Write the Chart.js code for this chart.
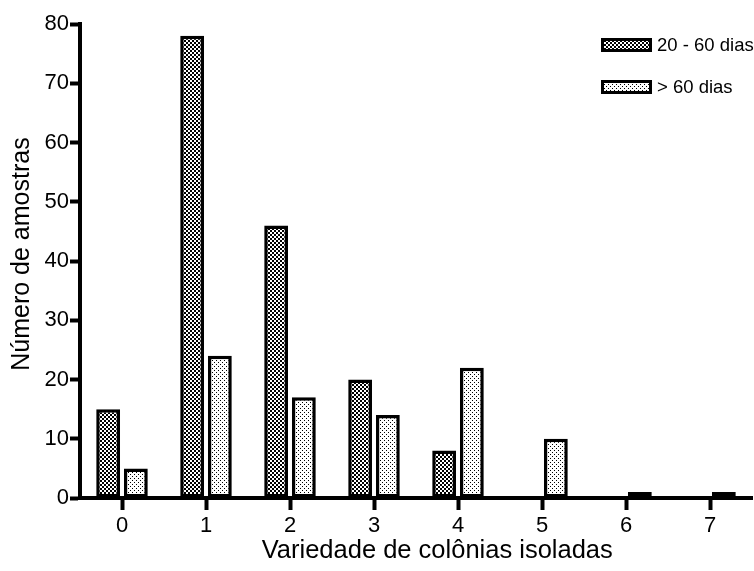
<!DOCTYPE html>
<html>
<head>
<meta charset="utf-8">
<script src="https://cdn.jsdelivr.net/npm/chart.js@4.4.1/dist/chart.umd.min.js"></script>
<style>
  html, body { margin: 0; padding: 0; background: #fff; }
  #wrap { width: 754px; height: 571px; }
</style>
</head>
<body>
<div id="wrap"><canvas id="grafico" width="754" height="571"></canvas></div>
<script>
// Data
const categorias = ["0", "1", "2", "3", "4", "5", "6", "7"];
const rotulosSeries = ["20 - 60 dias", "> 60 dias"];
const dias20a60 = [15, 78, 46, 20, 8, 0, 0, 0];
const diasMais60 = [5, 24, 17, 14, 22, 10, 1, 1];
const yMin = 0;
const yMax = 80;
const yPasso = 10;

const FONTE = "'Liberation Sans', Arial, Helvetica, sans-serif";

// Small tiles used as fill patterns (checker for the dark series, sparse dots for the light one)
function criaPadrao(tam, pontos) {
    const tile = document.createElement("canvas");
    tile.width = tam;
    tile.height = tam;
    const t = tile.getContext("2d");
    t.fillStyle = "#fff";
    t.fillRect(0, 0, tam, tam);
    t.fillStyle = "#000";
    pontos.forEach(function (p) { t.fillRect(p[0], p[1], p[2], p[2]); });
    return t.createPattern(tile, "repeat");
}

const ctx = document.getElementById("grafico").getContext("2d");
const padraoEscuro = criaPadrao(4, [[0, 0, 2], [2, 2, 2]]);
const padraoClaro = criaPadrao(4, [[0, 0, 1], [2, 2, 1]]);

// Legend drawn inside the plot area, top right, boxes stacked vertically
const legendaInterna = {
    id: "legendaInterna",
    afterDraw(chart) {
        const c = chart.ctx;
        const area = chart.chartArea;
        const x0 = area.right - 151;
        c.save();
        c.font = "18.5px " + FONTE;
        c.textBaseline = "middle";
        c.textAlign = "left";
        chart.data.datasets.forEach(function (ds, i) {
            const yc = area.top + 21 + i * 42;
            c.fillStyle = ds.backgroundColor;
            c.fillRect(x0, yc - 7, 51, 14);
            c.lineWidth = 3;
            c.strokeStyle = "#000";
            c.strokeRect(x0 + 1.5, yc - 5.5, 48, 11);
            c.fillStyle = "#000";
            c.fillText(ds.label, x0 + 56, yc + 1);
        });
        c.restore();
    }
};

new Chart(ctx, {
    type: "bar",
    data: {
        labels: categorias,
        datasets: [
            {
                label: rotulosSeries[0],
                data: dias20a60,
                backgroundColor: padraoEscuro,
                borderColor: "#000",
                borderWidth: 3.5,
                borderSkipped: false
            },
            {
                label: rotulosSeries[1],
                data: diasMais60,
                backgroundColor: padraoClaro,
                borderColor: "#000",
                borderWidth: 3.5,
                borderSkipped: false
            }
        ]
    },
    options: {
        responsive: false,
        animation: false,
        events: [],
        categoryPercentage: 0.66,
        barPercentage: 0.86,
        layout: { padding: { top: 24, right: 2, left: 0, bottom: 0 } },
        plugins: {
            legend: { display: false },
            tooltip: { enabled: false }
        },
        scales: {
            x: {
                grid: {
                    offset: false,
                    drawOnChartArea: false,
                    drawTicks: true,
                    tickLength: 12,
                    tickWidth: 4,
                    tickColor: "#000"
                },
                border: { display: true, color: "#000", width: 4 },
                ticks: { color: "#000", padding: 3, font: { family: FONTE, size: 22 } },
                title: {
                    display: true,
                    // leading spaces nudge the centred title to the right, as in the original
                    text: "      Variedade de colônias isoladas",
                    color: "#000",
                    font: { family: FONTE, size: 25.5 },
                    padding: { top: 0, bottom: 5 }
                },
                afterFit: function (scale) { scale.height = 73; }
            },
            y: {
                min: yMin,
                max: yMax,
                grid: {
                    drawOnChartArea: false,
                    drawTicks: true,
                    tickLength: 10,
                    tickWidth: 4,
                    tickColor: "#000"
                },
                border: { display: true, color: "#000", width: 4 },
                ticks: {
                    stepSize: yPasso,
                    color: "#000",
                    padding: 1,
                    font: { family: FONTE, size: 22 }
                },
                title: {
                    display: true,
                    text: "  Número de amostras",
                    color: "#000",
                    font: { family: FONTE, size: 25 },
                    padding: { top: 7, bottom: 0 }
                },
                afterFit: function (scale) { scale.width = 80; }
            }
        }
    },
    plugins: [legendaInterna]
});
</script>
</body>
</html>
